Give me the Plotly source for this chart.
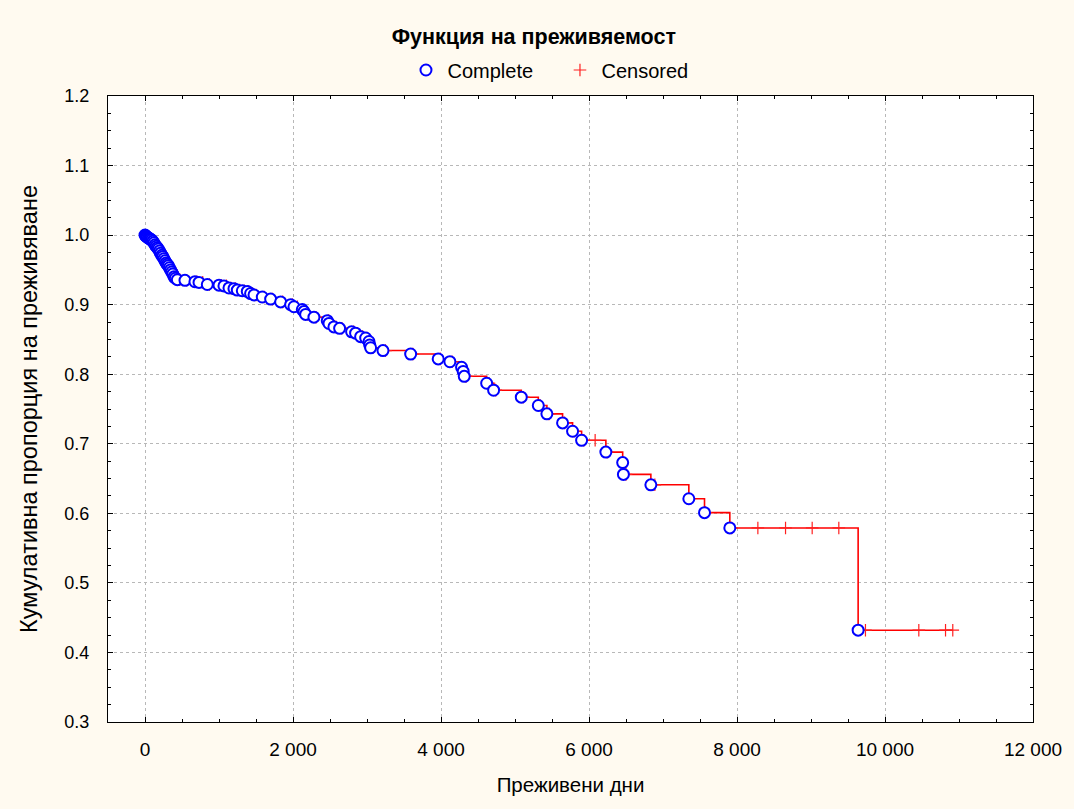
import plotly.graph_objects as go
import bisect

# Complete (event) times and survival estimates
event_days = [10, 20, 30, 45, 60, 75, 90, 105, 120, 135, 150, 165, 180, 195, 210, 226,
              240, 255, 270, 285, 300, 315, 330, 345, 360, 375, 392, 410, 437,
              540, 675, 730, 842, 1000, 1067, 1135, 1202, 1247, 1315, 1382, 1427, 1473,
              1585, 1698, 1833, 1968, 2013, 2126, 2148, 2171, 2283, 2463, 2486, 2553,
              2630, 2792, 2846, 2914, 2982, 3027, 3036, 3049, 3216, 3590, 3962, 4120,
              4278, 4300, 4314, 4617, 4711, 5085, 5315, 5431, 5643, 5778, 5900, 6228,
              6455, 6465, 6836, 7349, 7561, 7903, 9637]
event_surv = [0.999, 0.998, 0.997, 0.996, 0.995, 0.994, 0.993, 0.991, 0.989, 0.986, 0.984,
              0.982, 0.980, 0.977, 0.974, 0.971, 0.969, 0.966, 0.963, 0.960, 0.958, 0.956,
              0.953, 0.950, 0.947, 0.944, 0.940, 0.938, 0.936,
              0.935, 0.933, 0.932, 0.929, 0.928, 0.927, 0.924, 0.923, 0.921, 0.920, 0.919,
              0.916, 0.914, 0.911, 0.908, 0.904, 0.900, 0.897, 0.893, 0.890, 0.886, 0.882,
              0.877, 0.873, 0.868, 0.866, 0.861, 0.859, 0.854, 0.852, 0.847, 0.842, 0.838,
              0.834, 0.829, 0.822, 0.818, 0.810, 0.804, 0.797, 0.787, 0.777, 0.767, 0.755,
              0.743, 0.730, 0.718, 0.705, 0.688, 0.673, 0.656, 0.641, 0.621, 0.601, 0.579,
              0.432]

# Censored observation times
censored_days = [50, 80, 110, 140, 160, 185, 205, 225, 245, 262, 280, 298, 318, 338, 355,
                 372, 395, 415, 440, 470, 560, 700, 780, 870, 1030, 1100, 1160, 1220, 1280,
                 1340, 1400, 1450, 1500, 1610, 1720, 1860, 1990, 2060, 2150, 2200, 2310,
                 2480, 2510, 2580, 2660, 2820, 2870, 2940, 3000, 3060, 3080, 3250, 3620,
                 3990, 4150, 4330, 4340, 4650, 4740, 5110, 5340, 5460, 5670, 5800, 5930,
                 6083, 6245, 6500, 6890, 7575, 7928, 8282, 8656, 9016, 9376, 9736, 10457,
                 10818, 10916]

start_day, start_surv = 0, 1.0

# Step curve built from the events
xs = [start_day] + event_days + [max(censored_days)]
ys = [start_surv] + event_surv + [event_surv[-1]]


def surv_at(t):
    i = bisect.bisect_right(event_days, t)
    return start_surv if i == 0 else event_surv[i - 1]


cens_surv = [surv_at(t) for t in censored_days]

fig = go.Figure()
fig.add_trace(go.Scatter(x=xs, y=ys, mode="lines", line=dict(color="#FF0000", width=1.6, shape="hv"),
                         showlegend=False, hoverinfo="skip"))
fig.add_trace(go.Scatter(x=censored_days, y=cens_surv, mode="markers", name="Censored",
                         marker=dict(symbol="cross-thin", size=9, color="#FF0000",
                                     line=dict(color="#FF2020", width=1.2))))
fig.add_trace(go.Scatter(x=[start_day] + event_days, y=[start_surv] + event_surv, mode="markers",
                         name="Complete",
                         marker=dict(symbol="circle", size=11, color="white",
                                     line=dict(color="#0000FF", width=2))))

axis_common = dict(showline=True, linecolor="black", linewidth=1.2, mirror="ticks",
                   ticks="inside", ticklen=5, tickcolor="black", automargin=False,
                   showgrid=True, gridcolor="#B8B8B8", griddash="dot", gridwidth=1,
                   zeroline=False)

fig.update_layout(
    width=1074, height=809,
    paper_bgcolor="#FFFAF0", plot_bgcolor="white",
    separators=". ",
    margin=dict(l=108, r=41, t=96, b=87, autoexpand=False),
    font=dict(family="Liberation Sans, Arial, sans-serif", size=18, color="black"),
    title=dict(text="<b>Функция на преживяемост</b>", x=0.497, xanchor="center",
               yref="container", y=1 - 36 / 809, yanchor="middle", font=dict(size=21.5),
               automargin=False),
    legend=dict(orientation="h", x=0.487, xanchor="center", y=1.0415, yanchor="middle",
                traceorder="reversed", font=dict(size=20), bgcolor="rgba(0,0,0,0)",
                itemwidth=33, entrywidth=106),
    xaxis=dict(range=[-500, 12000], tickvals=[0, 2000, 4000, 6000, 8000, 10000, 12000],
               tickformat=",d", ticklabelstandoff=10,
               minor=dict(ticks="inside", ticklen=3, dtick=500, tick0=0, tickcolor="black"),
               title=dict(text="Преживени дни", standoff=18, font=dict(size=20.5)),
               tickfont=dict(size=19),
               **axis_common),
    yaxis=dict(range=[0.3, 1.2], dtick=0.1, tick0=0.3, tickformat=".1f", ticklabelstandoff=14,
               minor=dict(ticks="inside", ticklen=3, dtick=0.025, tick0=0.3, tickcolor="black"),
               title=dict(text="Кумулативна пропорция на преживяване", standoff=20,
                          font=dict(size=23.5)),
               tickfont=dict(size=18),
               **axis_common),
)

fig.write_html("out.html", config={"displayModeBar": False},
               post_script="document.body.style.margin='0';")
